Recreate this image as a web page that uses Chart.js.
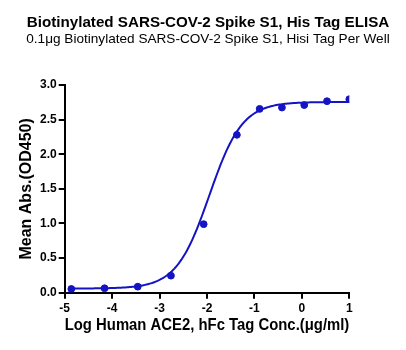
<!DOCTYPE html>
<html>
<head>
<meta charset="utf-8">
<script src="https://cdn.jsdelivr.net/npm/chart.js@4"></script>
<style>
  html, body { margin:0; padding:0; background:#fff; }
  #wrap { width:406px; height:350px; }
</style>
</head>
<body>
<div id="wrap"><canvas id="elisa"></canvas></div>
<script>
// --- measured data (log conc vs OD450) ---
const logConc = [-4.86, -4.16, -3.46, -2.76, -2.07, -1.37, -0.89, -0.42, 0.05, 0.53, 1.0];
const od450   = [0.054, 0.064, 0.087, 0.246, 0.99, 2.28, 2.655, 2.674, 2.71, 2.766, 2.795];

// 4PL fit params
const fitBottom = 0.06;
const fitTop = 2.755;
const fitLogEC50 = -1.95;
const fitHill = 1.25;
const fitRange = [-4.9, 1.0];

const xTicks = [-5, -4, -3, -2, -1, 0, 1];
const yTicks = [0, 0.5, 1.0, 1.5, 2.0, 2.5, 3.0];

const titleText = "Biotinylated SARS-COV-2 Spike S1, His Tag ELISA";
const subtitleText = "0.1μg Biotinylated SARS-COV-2 Spike S1, Hisi Tag Per Well";

const BLUE = "#1414c4";
const FONT = "'Liberation Sans', Arial, sans-serif";

function fourPL(x){
  return fitBottom + (fitTop - fitBottom) / (1 + Math.pow(10, (fitLogEC50 - x) * fitHill));
}

// curve points along the fit
const curve = [];
for(let i = 0; i <= 200; i++){
  const x = fitRange[0] + (fitRange[1] - fitRange[0]) * i / 200;
  curve.push({x, y: fourPL(x)});
}

const points = logConc.map((x, i) => ({x, y: od450[i]}));

// headings centred on the whole canvas, not the padded box
const headings = {
  id: "headings",
  afterDraw(chart){
    const c = chart.ctx;
    const mid = chart.width / 2 + 5;
    c.save();
    c.fillStyle = "#000";
    c.textAlign = "center";
    c.textBaseline = "middle";
    c.font = "bold 15.2px " + FONT;
    c.fillText(titleText, mid, 23);
    c.font = "13.6px " + FONT;
    c.fillText(subtitleText, mid, 39);
    c.restore();
  }
};

const ctx = document.getElementById("elisa").getContext("2d");
new Chart(ctx, {
  type: "scatter",
  data: {
    datasets: [
      {data: points, backgroundColor: BLUE, borderColor: BLUE, pointRadius: 3.4, showLine: false},
      {data: curve, borderColor: BLUE, borderWidth: 2, pointRadius: 0, showLine: true, fill: false}
    ]
  },
  plugins: [headings],
  options: {
    responsive: true,
    maintainAspectRatio: false,
    animation: false,
    layout: {padding: {top: 85, right: 56.7, bottom: 0, left: 0}},
    plugins: {
      legend: {display: false},
      tooltip: {enabled: false}
    },
    scales: {
      x: {
        type: "linear",
        min: -5, max: 1,
        afterBuildTicks: s => { s.ticks = xTicks.map(v => ({value: v})); },
        afterFit: s => { s.height = 57.3; },
        ticks: {color: "#000", font: {family: FONT, size: 12, weight: "bold"}, padding: 3, maxRotation: 0},
        grid: {drawOnChartArea: false, drawTicks: true, tickLength: 6, color: "#000", lineWidth: 2},
        border: {color: "#000", width: 2},
        title: {display: true, text: "Log Human ACE2, hFc Tag Conc.(μg/ml)", color: "#000",
                font: {family: FONT, size: 17.3, weight: "bold"}, padding: {top: 0, bottom: 14}}
      },
      y: {
        min: 0, max: 3,
        afterBuildTicks: s => { s.ticks = yTicks.map(v => ({value: v})); },
        afterFit: s => { s.width = 64.7; },
        ticks: {color: "#000", font: {family: FONT, size: 12, weight: "bold"}, padding: 2,
                callback: v => v.toFixed(1)},
        grid: {drawOnChartArea: false, drawTicks: true, tickLength: 6, color: "#000", lineWidth: 2},
        border: {color: "#000", width: 2},
        title: {display: true, text: "Mean Abs.(OD450)", color: "#000",
                font: {family: FONT, size: 16, weight: "bold"}, padding: {top: 17.4, bottom: 0}}
      }
    }
  }
});
</script>
</body>
</html>
